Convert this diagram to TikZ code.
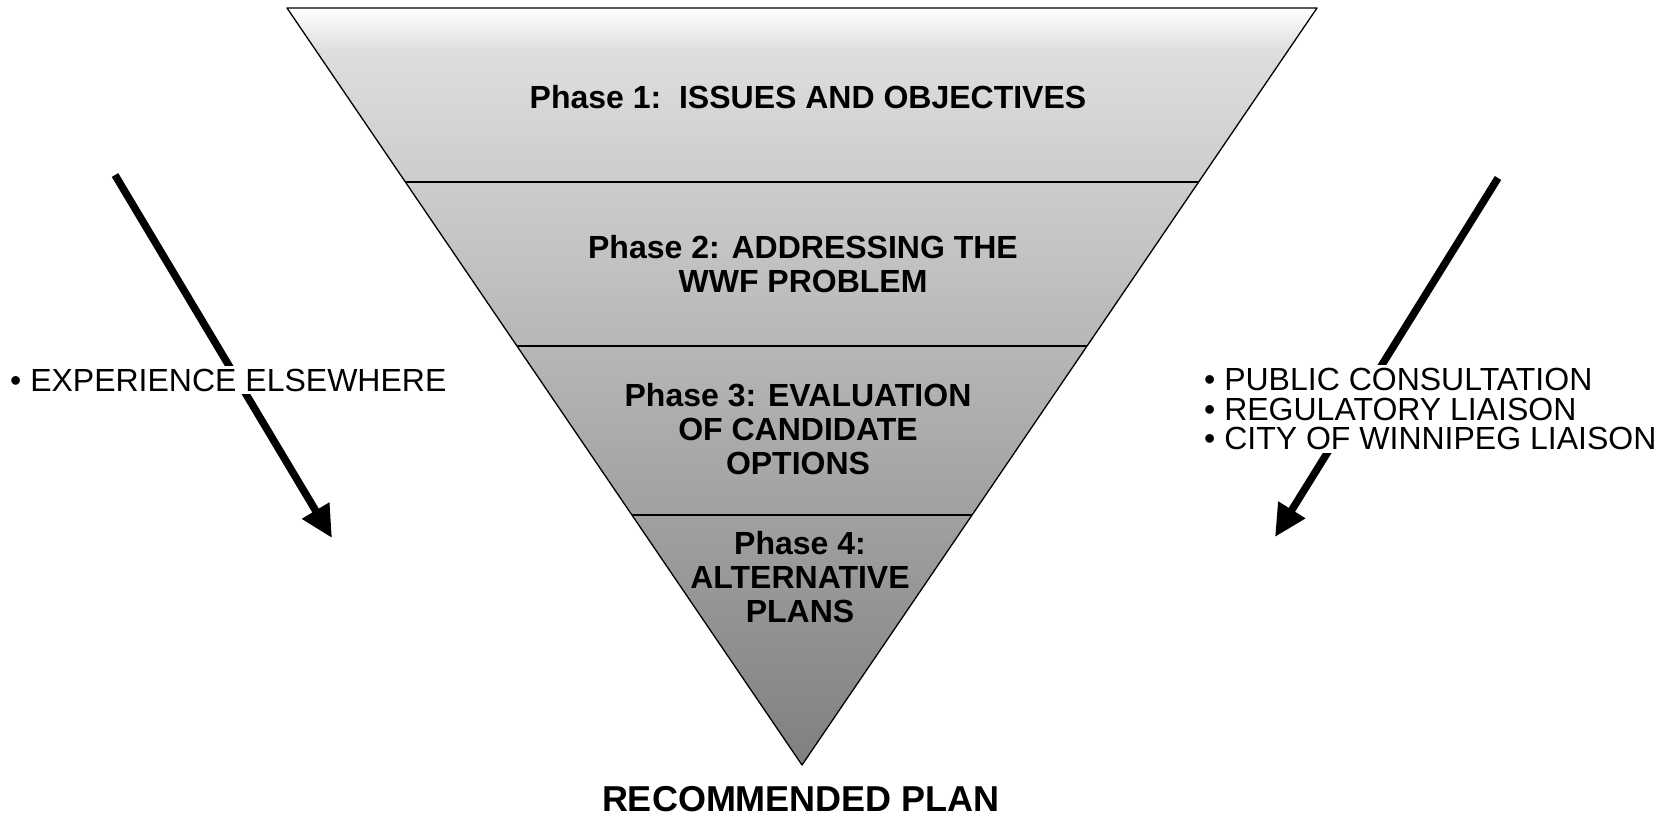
\documentclass[tikz,border=0pt]{standalone}
\usepackage{fontspec}
\setmainfont{Liberation Sans}
\usetikzlibrary{arrows.meta,calc}
\begin{document}
\begin{tikzpicture}[x=1pt,y=-1pt,
  phasetxt/.style={font=\fontsize{32}{34}\selectfont\bfseries,align=center,inner sep=0pt},
  sidetxt/.style={font=\fontsize{32}{29.5}\selectfont,align=left,fill=white,inner sep=3pt},
  bandline/.style={line width=2.6pt},
  bigarrow/.style={line width=7.5pt,-{Triangle[length=32pt,width=30pt]}}]
\useasboundingbox (0,0) rectangle (1678,820);
% triangle corners
\coordinate (tl) at (287,8);
\coordinate (tr) at (1317,8);
\coordinate (ap) at (802,765);
% shaded body
\begin{scope}
\clip (tl) -- (tr) -- (ap) -- cycle;
\shade[top color=white, bottom color=black!13] (280,8) rectangle (1325,50);
\shade[top color=black!13, bottom color=black!50] (280,49.5) rectangle (1325,766);
\end{scope}
\draw[line width=1.3pt,line join=round] (tl) -- (tr) -- (ap) -- cycle;
% band lines
\foreach \yy/\nm in {182/a,346/b,515/c}{
  \pgfmathsetmacro{\ff}{(\yy-8)/757}
  \coordinate (\nm l) at ($(tl)!\ff!(ap)$);
  \coordinate (\nm r) at ($(tr)!\ff!(ap)$);
  \draw[bandline] (\nm l) -- (\nm r);
}
% phase labels
\node[phasetxt] (p1) at (808,97) {Phase 1:\ \ ISSUES AND OBJECTIVES};
\node[phasetxt] (p2) at (803,264) {Phase 2: ADDRESSING THE\\WWF PROBLEM};
\node[phasetxt] (p3) at (798,429) {Phase 3: EVALUATION\\OF CANDIDATE\\OPTIONS};
\node[phasetxt] (p4) at (800,577) {Phase 4:\\ALTERNATIVE\\PLANS};
\node[font=\fontsize{36}{40}\selectfont\bfseries,inner sep=0pt] (rec) at (801,799) {RECOMMENDED PLAN};
% arrows
\coordinate (ls) at (115,175);
\coordinate (le) at (332,538);
\coordinate (rs) at (1498,178);
\coordinate (re) at (1275,537);
\draw[bigarrow] (ls) -- (le);
\draw[bigarrow] (rs) -- (re);
% side texts
\node[sidetxt,anchor=west] (exp) at (7,380) {\textbullet\ EXPERIENCE ELSEWHERE};
\node[sidetxt,anchor=west] (pub) at (1201,409) {\textbullet\ PUBLIC CONSULTATION\\\textbullet\ REGULATORY LIAISON\\\textbullet\ CITY OF WINNIPEG LIAISON};
\end{tikzpicture}
\end{document}
